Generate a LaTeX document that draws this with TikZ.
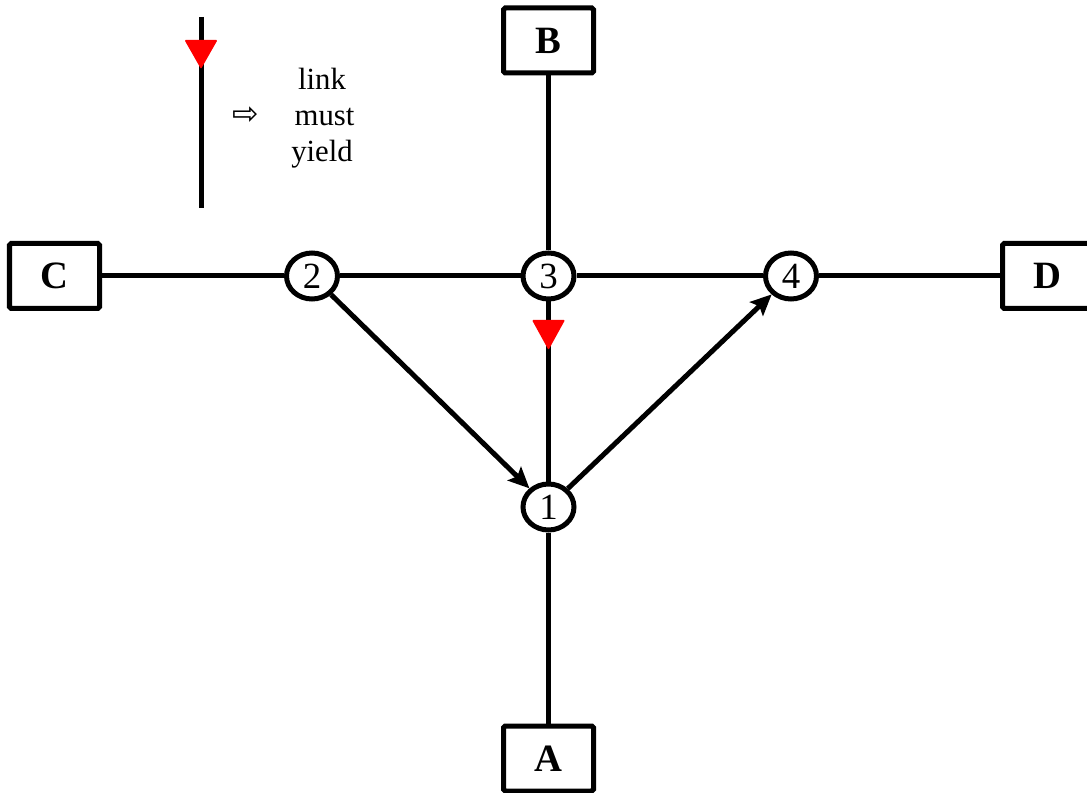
\documentclass[tikz,border=0pt]{standalone}
\usepackage{fontspec}
\setmainfont{Liberation Serif}
\newfontfamily\symfont{DejaVu Sans}
\usetikzlibrary{arrows.meta,positioning,calc,shapes.geometric}

\begin{document}
\begin{tikzpicture}[
    every node/.style={align=center},
    junction/.style={draw, shape=ellipse, line width=0.1cm, minimum width=1.02cm, minimum height=0.92cm, inner sep=0pt, font=\fontsize{21}{21}\selectfont},
    zoneBox/.style={draw, shape=rectangle, line width=0.1cm, minimum width=1.8cm, minimum height=1.3cm, inner sep=0pt, rounded corners=1pt, font=\fontsize{22}{22}\selectfont\bfseries},
    linkLine/.style={line width=0.1cm},
    yieldArrow/.style={line width=0.1cm, -{Stealth[length=0.42cm, width=0.38cm, inset=0.08cm]}},
    yieldMark/.style={fill=red, rounded corners=0.6pt}
  ]
  \useasboundingbox (0,0) rectangle (21.74,15.84);

  % junctions
  \node[junction] (N1) at (10.97,5.70) {1};
  \node[junction] (N2) at (6.24,10.32) {2};
  \node[junction] (N3) at (10.97,10.32) {3};
  \node[junction] (N4) at (15.82,10.32) {4};

  % zones
  \node[zoneBox] (B) at (10.97,15.03) {B};
  \node[zoneBox] (C) at (1.09,10.32) {C};
  \node[zoneBox] (D) at (20.95,10.32) {D};
  \node[zoneBox] (A) at (10.97,0.67) {A};

  % links
  \draw[linkLine] (B) -- (N3);
  \draw[linkLine] (C) -- (N2);
  \draw[linkLine] (N2) -- (N3);
  \draw[linkLine] (N3) -- (N4);
  \draw[linkLine] (N4) -- (D);
  \draw[linkLine] (N3) -- (N1);
  \draw[linkLine] (N1) -- (A);
  \draw[yieldArrow] (N2) -- (N1);
  \draw[yieldArrow] (N1) -- (N4);

  % yield mark on link 3-1
  \coordinate (M31) at (10.97,9.44);
  \fill[yieldMark] ($(M31)+(-0.33,0)$) -- ($(M31)+(0.33,0)$) -- ($(M31)+(0,-0.6)$) -- cycle;

  % legend
  \coordinate (legTop) at (4.02,15.50);
  \coordinate (legBot) at (4.02,11.68);
  \draw[linkLine] (legTop) -- (legBot);
  \coordinate (legMark) at (4.02,15.04);
  \fill[yieldMark] ($(legMark)+(-0.33,0)$) -- ($(legMark)+(0.33,0)$) -- ($(legMark)+(0,-0.58)$) -- cycle;
  \node[font=\fontsize{18}{18}\symfont] (legArrow) at (4.92,13.52) {⇨};
  \node[font=\fontsize{17.5}{20.5}\selectfont] (legText) at (6.44,13.48) {link\\ \,must\\yield};
\end{tikzpicture}
\end{document}
